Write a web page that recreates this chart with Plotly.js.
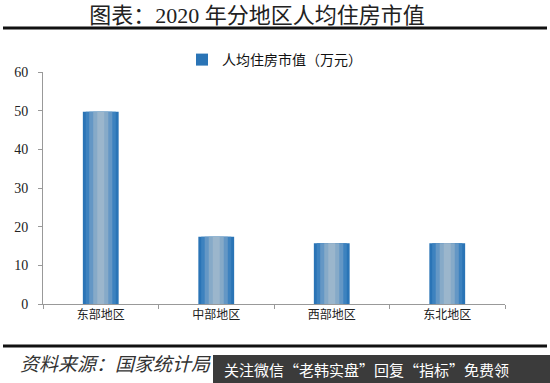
<!DOCTYPE html>
<html><head><meta charset="utf-8">
<script src="https://cdn.plot.ly/plotly-3.0.1.min.js"></script>
<style>body{margin:0;background:#fff}#c{width:550px;height:383px}</style>
</head><body><div id="c"></div>
<script>
const categories = ["东部地区", "中部地区", "西部地区", "东北地区"];
const values = [49.7, 17.4, 15.7, 15.7];
const yTicks = [0, 10, 20, 30, 40, 50, 60];
const seriesName = "人均住房市值（万元）";

const L = 43, R = 505, T = 72, B = 304;
const W = R - L, H = B - T;
const px = x => (x - L) / W;
const py = y => (B - y) / H;

const layers = [
  {w: 0.31, c: "#1c6cb0"},
  {w: 0.26, c: "#3d82bf"},
  {w: 0.20, c: "#6497c5"},
  {w: 0.13, c: "#86aac8"},
  {w: 0.06, c: "#9bb6cc"}
];
const serif = "Liberation Serif, Noto Sans CJK SC, serif";
const traces = layers.map((l, i) => ({
  type: "bar", x: categories, y: values, width: l.w,
  marker: {color: l.c, line: {width: 0}},
  name: seriesName, showlegend: i === 0, hoverinfo: "skip"
}));
traces[0].marker.color = "#2a74b6";

const layout = {
  width: 550, height: 383,
  margin: {l: L, r: 550 - R, t: T, b: 383 - B},
  paper_bgcolor: "#fff", plot_bgcolor: "#fff",
  barmode: "overlay", showlegend: true,
  font: {family: serif, color: "#222"},
  title: {text: "图表：2020 年分地区人均住房市值", x: 257/550, xanchor: "center",
          y: 1 - 15/383, yref: "container", yanchor: "middle",
          font: {family: serif, size: 22, color: "#222"}},
  legend: {x: px(182), y: py(60), xanchor: "left", yanchor: "middle",
           orientation: "h", font: {family: serif, size: 14, color: "#111"},
           bgcolor: "rgba(0,0,0,0)", itemwidth: 30},
  xaxis: {showline: true, linecolor: "#999", linewidth: 1, ticks: "outside",
          tickson: "boundaries", ticklen: 4, tickcolor: "#999",
          tickfont: {family: serif, size: 12, color: "#222"}, showgrid: false,
          zeroline: false},
  yaxis: {range: [0, 60], tickvals: yTicks, showline: true, linecolor: "#999",
          linewidth: 1, ticks: "outside", ticklen: 4, tickcolor: "#999",
          tickfont: {family: serif, size: 14, color: "#222"}, showgrid: false,
          zeroline: false, ticklabelstandoff: 7},
  shapes: [
    {type: "line", xref: "paper", yref: "paper", x0: px(3), x1: px(547), y0: py(28), y1: py(28),
     line: {color: "#111", width: 3}},
    {type: "line", xref: "paper", yref: "paper", x0: px(3), x1: px(547), y0: py(346), y1: py(346),
     line: {color: "#111", width: 3}},
    {type: "rect", xref: "paper", yref: "paper", x0: px(213), x1: px(552), y0: py(355), y1: py(386),
     fillcolor: "#3b3b3b", line: {width: 0}, layer: "above"}
  ],
  annotations: [
    {text: "<i>资料来源：国家统计局</i>", xref: "paper", yref: "paper", x: px(18), y: py(364),
     xanchor: "left", yanchor: "middle", showarrow: false,
     font: {family: serif, size: 19, color: "#333"}},
    {text: "关注微信“老韩实盘”回复“指标”免费领", xref: "paper", yref: "paper",
     x: px(222), y: py(369), xanchor: "left", yanchor: "middle", showarrow: false,
     font: {family: "Noto Sans CJK SC, sans-serif", size: 15, color: "#fff"}}
  ]
};
Plotly.newPlot("c", traces, layout, {displayModeBar: false, staticPlot: true});
</script></body></html>
